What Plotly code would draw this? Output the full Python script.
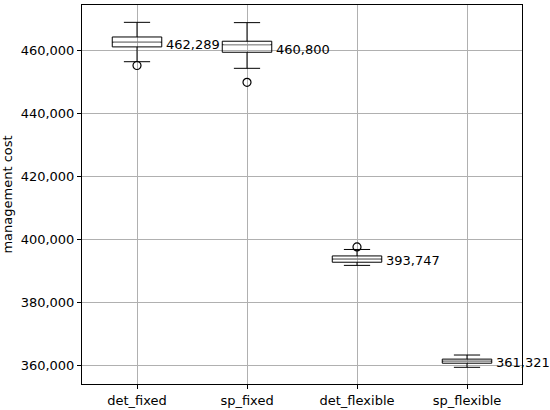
import plotly.graph_objects as go

categories = ["det_fixed", "sp_fixed", "det_flexible", "sp_flexible"]
lower_whisker = [456300, 454200, 391650, 359300]
q1_values = [461000, 459300, 392650, 360600]
median_values = [462500, 461700, 393650, 361250]
q3_values = [464150, 462800, 394650, 361900]
upper_whisker = [468800, 468700, 396700, 363200]
outliers = [[455100], [449750], [397500], []]
label_values = [462289, 460800, 393747, 361321]
label_texts = ["462,289", "460,800", "393,747", "361,321"]

positions = list(range(len(categories)))
half_w = 0.225

fig = go.Figure()
for i, cat in enumerate(categories):
    fig.add_trace(go.Box(
        x=[positions[i]], q1=[q1_values[i]], median=[median_values[i]], q3=[q3_values[i]],
        lowerfence=[lower_whisker[i]], upperfence=[upper_whisker[i]],
        width=2 * half_w, whiskerwidth=0.53,
        line=dict(color="black", width=1), fillcolor="rgba(0,0,0,0)",
        boxpoints=False, showlegend=False, hoverinfo="skip", name=cat,
    ))
    fig.add_trace(go.Scatter(
        x=[positions[i] - half_w + 0.01, positions[i] + half_w - 0.01],
        y=[median_values[i], median_values[i]], mode="lines",
        line=dict(color="#bbbbbb", width=1), showlegend=False, hoverinfo="skip",
    ))
    if outliers[i]:
        fig.add_trace(go.Scatter(
            x=[positions[i]] * len(outliers[i]), y=outliers[i], mode="markers",
            marker=dict(symbol="circle-open", size=8, color="black", line=dict(width=1.2)),
            showlegend=False, hoverinfo="skip",
        ))
    fig.add_annotation(x=positions[i] + half_w + 0.02, y=label_values[i], text=label_texts[i],
                       xanchor="left", yanchor="middle", yshift=-2, showarrow=False,
                       font=dict(size=13, color="black"))

fig.update_layout(
    width=550, height=410,
    margin=dict(l=82, r=28, t=5, b=26, autoexpand=False),
    plot_bgcolor="white", paper_bgcolor="white",
    font=dict(family="DejaVu Sans", size=13, color="black"),
)
fig.update_xaxes(
    range=[-0.5, 3.5], tickvals=positions, ticktext=categories, automargin=False,
    showgrid=True, gridcolor="#b0b0b0", gridwidth=1,
    showline=True, linecolor="black", linewidth=1, mirror=True,
    ticks="outside", ticklen=4, tickcolor="black", zeroline=False,
    tickfont=dict(size=13),
)
fig.update_yaxes(
    range=[354000, 474300], tickvals=[360000, 380000, 400000, 420000, 440000, 460000],
    tickformat=",d", automargin=False,
    title=dict(text="management cost", standoff=8, font=dict(size=13)),
    showgrid=True, gridcolor="#b0b0b0", gridwidth=1,
    showline=True, linecolor="black", linewidth=1, mirror=True,
    ticks="outside", ticklen=4, tickcolor="black", zeroline=False,
    tickfont=dict(size=13),
)
fig.write_html("out.html", config={"displayModeBar": False},
               post_script="document.body.style.margin='0';")
